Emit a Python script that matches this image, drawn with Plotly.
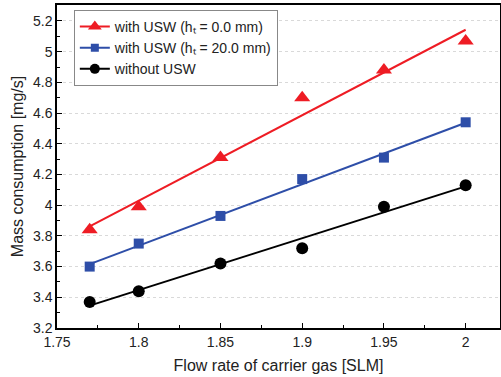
import numpy as np
import plotly.graph_objects as go

flow_rate = [1.77, 1.80, 1.85, 1.90, 1.95, 2.00]
usw_h0 = [3.84, 3.99, 4.31, 4.70, 4.88, 5.07]
usw_h20 = [3.60, 3.75, 3.93, 4.17, 4.31, 4.54]
without_usw = [3.37, 3.44, 3.62, 3.72, 3.99, 4.13]

series_names = ["with USW (h\u209c = 0.0 mm)",
                "with USW (h\u209c = 20.0 mm)",
                "without USW"]
x_ticks = [1.75, 1.8, 1.85, 1.9, 1.95, 2.0]
x_tick_labels = ["1.75", "1.8", "1.85", "1.9", "1.95", "2"]
y_ticks = [3.2, 3.4, 3.6, 3.8, 4.0, 4.2, 4.4, 4.6, 4.8, 5.0, 5.2]
y_tick_labels = ["3.2", "3.4", "3.6", "3.8", "4", "4.2", "4.4", "4.6", "4.8", "5", "5.2"]

styles = [
    dict(color="#ee1c24", symbol="triangle-up", size=14),
    dict(color="#2e4ea8", symbol="square", size=10),
    dict(color="#000000", symbol="circle", size=12),
]

fig = go.Figure()
xs = np.array(flow_rate)
for name, ys, st in zip(series_names, [usw_h0, usw_h20, without_usw], styles):
    k, b = np.polyfit(xs, np.array(ys), 1)
    xf = np.array([xs.min(), xs.max()])
    fig.add_trace(go.Scatter(x=xf, y=k * xf + b, mode="lines",
                             line=dict(color=st["color"], width=2),
                             showlegend=False, hoverinfo="skip"))
    fig.add_trace(go.Scatter(x=flow_rate, y=ys, mode="markers",
                             marker=dict(color=st["color"], symbol=st["symbol"], size=st["size"]),
                             showlegend=False))
    fig.add_trace(go.Scatter(x=[None], y=[None], mode="lines+markers", name=name,
                             line=dict(color=st["color"], width=2),
                             marker=dict(color=st["color"], symbol=st["symbol"], size=st["size"] - 2)))

axis_common = dict(showline=True, linecolor="black", linewidth=1.5, mirror=True,
                   ticks="inside", ticklen=5, tickcolor="black", tickwidth=1,
                   tickfont=dict(family="Liberation Sans, Arial", size=14, color="#222"),
                   zeroline=False, automargin=False)

fig.update_layout(
    width=501, height=377,
    margin=dict(l=57, r=1, t=5, b=49),
    paper_bgcolor="white", plot_bgcolor="white",
    font=dict(family="Liberation Sans, Arial", color="#222"),
    xaxis=dict(range=[1.75, 2.021], tickvals=x_ticks, ticktext=x_tick_labels,
               showgrid=False,
               minor=dict(ticks="inside", ticklen=3, tickcolor="black", dtick=0.025, showgrid=False),
               title=dict(text="Flow rate of carrier gas [SLM]", font=dict(size=16), standoff=11),
               **axis_common),
    yaxis=dict(range=[3.2, 5.304], tickvals=y_ticks, ticktext=y_tick_labels,
               showgrid=True, gridcolor="#d9d9d9", gridwidth=1, griddash="dot",
               minor=dict(ticks="inside", ticklen=3, tickcolor="black", dtick=0.1, showgrid=False),
               title=dict(text="Mass consumption [mg/s]", font=dict(size=16), standoff=5),
               **axis_common),
    legend=dict(x=0.038, y=0.985, xanchor="left", yanchor="top",
                bgcolor="white", bordercolor="#888", borderwidth=1,
                font=dict(family="Liberation Sans, Arial", size=14, color="#222"),
                itemwidth=30, tracegroupgap=0),
)

fig.write_html("out.html", config={"displayModeBar": False},
               post_script="document.body.style.margin='0';document.body.style.overflow='hidden';")
